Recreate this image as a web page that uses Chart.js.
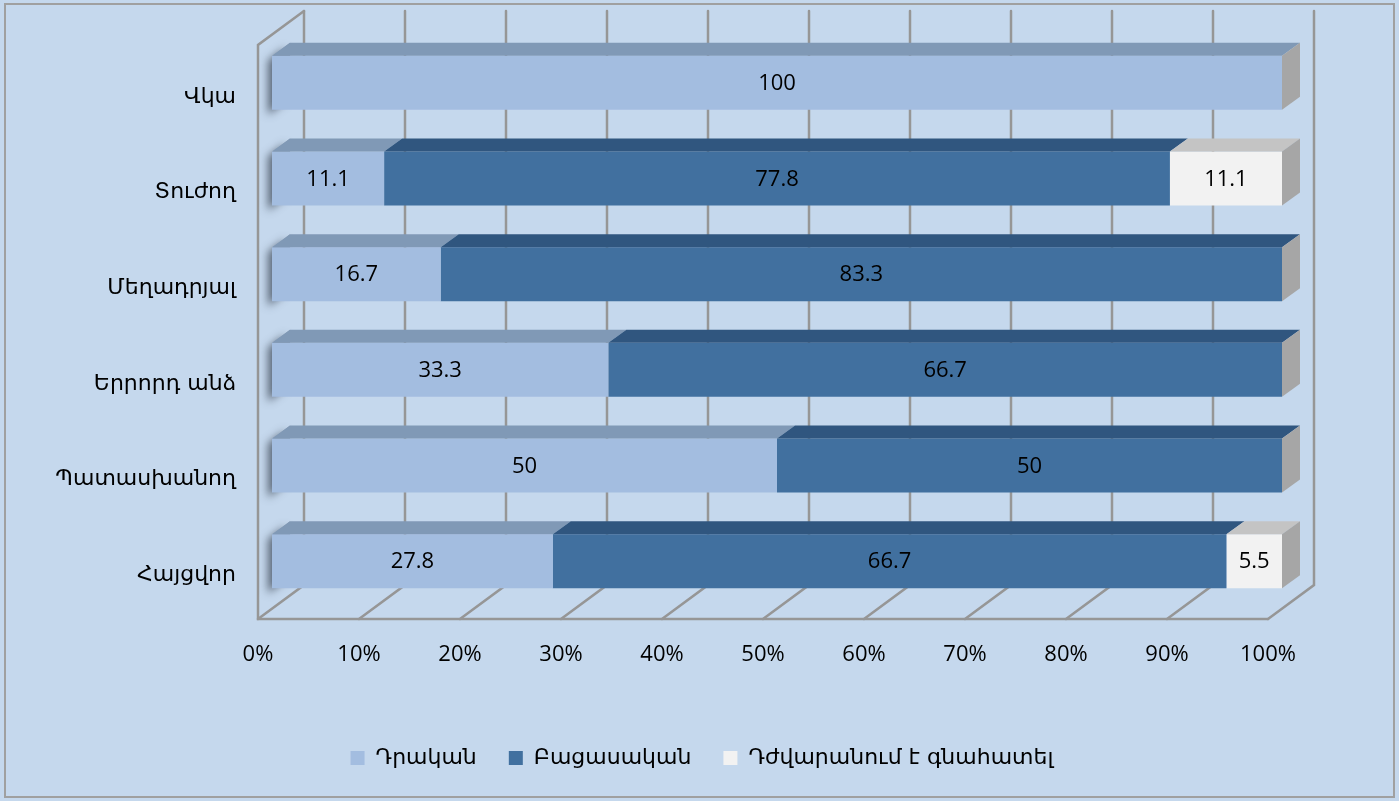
<!DOCTYPE html>
<html>
<head>
<meta charset="utf-8">
<script src="https://cdn.jsdelivr.net/npm/chart.js@4.4.0/dist/chart.umd.min.js"></script>
<style>
  html, body { margin: 0; padding: 0; background: #c5d8ed; }
  canvas { display: block; }
</style>
</head>
<body>
<canvas id="chart" width="1399" height="801"></canvas>
<script>
// --- DATA ---
const categories = ['Վկա', 'Տուժող', 'Մեղադրյալ', 'Երրորդ անձ', 'Պատասխանող', 'Հայցվոր'];
const seriesNames = ['Դրական', 'Բացասական', 'Դժվարանում է գնահատել'];
const positive = [100, 11.1, 16.7, 33.3, 50, 27.8];
const negative = [0, 77.8, 83.3, 66.7, 50, 66.7];
const hardToSay = [0, 11.1, 0, 0, 0, 5.5];
const xTicks = [0, 10, 20, 30, 40, 50, 60, 70, 80, 90, 100];

// --- STYLE ---
const bg = '#c5d8ed';
const frontColors = ['#a3bde0', '#41709f', '#f2f2f2'];
const topColors = ['#8099b6', '#30567f', '#c4c4c4'];
const sideColor = '#a6a6a6';
const gridColor = '#969696';
const numFont = '"Open Sans", "Liberation Sans", sans-serif';
const armFont = '"DejaVu Sans", sans-serif';

// 3D offsets relative to the chart area (front plane, back plane, bar depth)
const wall = { fx: -14, fy: 10, bx: 32, by: -24 };
const barDepth = { dx: 18, dy: -13 };
const legendShift = 51; // legend is centred on the whole canvas, not the plot

const threeD = {
    id: 'threeD',
    afterLayout(chart) {
        chart.legend.left += legendShift;
        chart.legend.right += legendShift;
    },
    beforeDraw(chart) {
        const { ctx, width, height } = chart;
        ctx.save();
        ctx.fillStyle = bg;
        ctx.fillRect(0, 0, width, height);
        ctx.strokeStyle = '#a0a0a0';
        ctx.lineWidth = 2;
        ctx.strokeRect(5, 4, width - 10, height - 8);
        ctx.restore();
    },
    beforeDatasetsDraw(chart) {
        const { ctx, chartArea: a } = chart;
        const xs = chart.scales.x;
        const fTop = a.top + wall.fy, fBot = a.bottom + wall.fy;
        const bTop = a.top + wall.by, bBot = a.bottom + wall.by;
        ctx.save();

        ctx.strokeStyle = gridColor;
        ctx.lineWidth = 2.5;
        ctx.lineCap = 'round';
        xTicks.forEach(v => {
            const px = xs.getPixelForValue(v);
            // back wall gridline
            ctx.beginPath();
            ctx.moveTo(px + wall.bx, bTop);
            ctx.lineTo(px + wall.bx, bBot);
            // floor gridline
            ctx.lineTo(px + wall.fx, fBot);
            ctx.stroke();
        });

        // floor front edge and left wall edges
        ctx.beginPath();
        ctx.moveTo(xs.getPixelForValue(100) + wall.fx, fBot);
        ctx.lineTo(a.left + wall.fx, fBot);
        ctx.lineTo(a.left + wall.fx, fTop);
        ctx.lineTo(a.left + wall.bx, bTop);
        ctx.stroke();

        // soft shadow of each bar's left end on the left wall
        chart.getDatasetMeta(0).data.forEach(el => {
            const p = el.getProps(['base', 'y', 'height'], true);
            const l = p.base, t = p.y - p.height / 2, b = p.y + p.height / 2;
            ctx.save();
            ctx.shadowColor = 'rgba(55,65,80,0.75)';
            ctx.shadowBlur = 9;
            ctx.shadowOffsetX = -5;
            ctx.shadowOffsetY = 5;
            ctx.fillStyle = '#8a9ab0';
            ctx.beginPath();
            ctx.moveTo(l + 1, t);
            ctx.lineTo(l + barDepth.dx, t + barDepth.dy);
            ctx.lineTo(l + barDepth.dx, b + barDepth.dy);
            ctx.lineTo(l + 1, b);
            ctx.closePath();
            ctx.fill();
            ctx.restore();
        });
        ctx.restore();
    },
    afterDatasetsDraw(chart) {
        const { ctx } = chart;
        const metas = chart.data.datasets.map((d, i) => chart.getDatasetMeta(i));
        ctx.save();
        categories.forEach((c, j) => {
            let last = -1;
            metas.forEach((m, i) => {
                if (chart.data.datasets[i].data[j] > 0) last = i;
            });
            metas.forEach((m, i) => {
                const val = chart.data.datasets[i].data[j];
                if (!(val > 0)) return;
                const p = m.data[j].getProps(['x', 'y', 'base', 'height'], true);
                const l = Math.min(p.x, p.base), r = Math.max(p.x, p.base);
                const t = p.y - p.height / 2, b = p.y + p.height / 2;
                // top face
                ctx.fillStyle = topColors[i];
                ctx.beginPath();
                ctx.moveTo(l, t);
                ctx.lineTo(r, t);
                ctx.lineTo(r + barDepth.dx, t + barDepth.dy);
                ctx.lineTo(l + barDepth.dx, t + barDepth.dy);
                ctx.closePath();
                ctx.fill();
                // side face at the end of the stack
                if (i === last) {
                    ctx.fillStyle = sideColor;
                    ctx.beginPath();
                    ctx.moveTo(r, t);
                    ctx.lineTo(r + barDepth.dx, t + barDepth.dy);
                    ctx.lineTo(r + barDepth.dx, b + barDepth.dy);
                    ctx.lineTo(r, b);
                    ctx.closePath();
                    ctx.fill();
                }
                // value label
                ctx.fillStyle = '#000';
                ctx.font = '22px ' + numFont;
                ctx.textAlign = 'center';
                ctx.textBaseline = 'middle';
                ctx.fillText(String(val), (l + r) / 2, p.y + 1);
            });
        });
        ctx.restore();
    }
};

const ctx = document.getElementById('chart').getContext('2d');
new Chart(ctx, {
    type: 'bar',
    data: {
        labels: categories,
        datasets: [
            { label: seriesNames[0], data: positive, backgroundColor: frontColors[0] },
            { label: seriesNames[1], data: negative, backgroundColor: frontColors[1] },
            { label: seriesNames[2], data: hardToSay, backgroundColor: frontColors[2] }
        ]
    },
    options: {
        indexAxis: 'y',
        responsive: false,
        animation: false,
        devicePixelRatio: 1,
        categoryPercentage: 0.565,
        barPercentage: 1,
        borderWidth: 0,
        layout: { padding: { left: 20, top: 35, right: 117, bottom: 22 } },
        plugins: {
            legend: {
                position: 'bottom',
                labels: {
                    color: '#000',
                    boxWidth: 14,
                    boxHeight: 14,
                    padding: 32,
                    font: { family: armFont, size: 22 }
                }
            },
            tooltip: { enabled: false }
        },
        scales: {
            x: {
                stacked: true,
                min: 0,
                max: 100,
                grid: { display: false, drawTicks: false },
                border: { display: false },
                afterFit: s => { s.height = 106; s.paddingLeft = 0; s.paddingRight = 0; },
                afterBuildTicks: s => { s.ticks = xTicks.map(v => ({ value: v })); },
                ticks: {
                    color: '#000',
                    padding: 33,
                    labelOffset: wall.fx,
                    maxRotation: 0,
                    font: { family: numFont, size: 22 },
                    callback: v => v + '%'
                }
            },
            y: {
                stacked: true,
                grid: { display: false, drawTicks: false },
                border: { display: false },
                afterFit: s => { s.width = 252; s.paddingTop = 0; s.paddingBottom = 0; },
                ticks: {
                    color: '#000',
                    padding: 36,
                    labelOffset: 14,
                    font: { family: armFont, size: 22 }
                }
            }
        }
    },
    plugins: [threeD]
});
</script>
</body>
</html>
